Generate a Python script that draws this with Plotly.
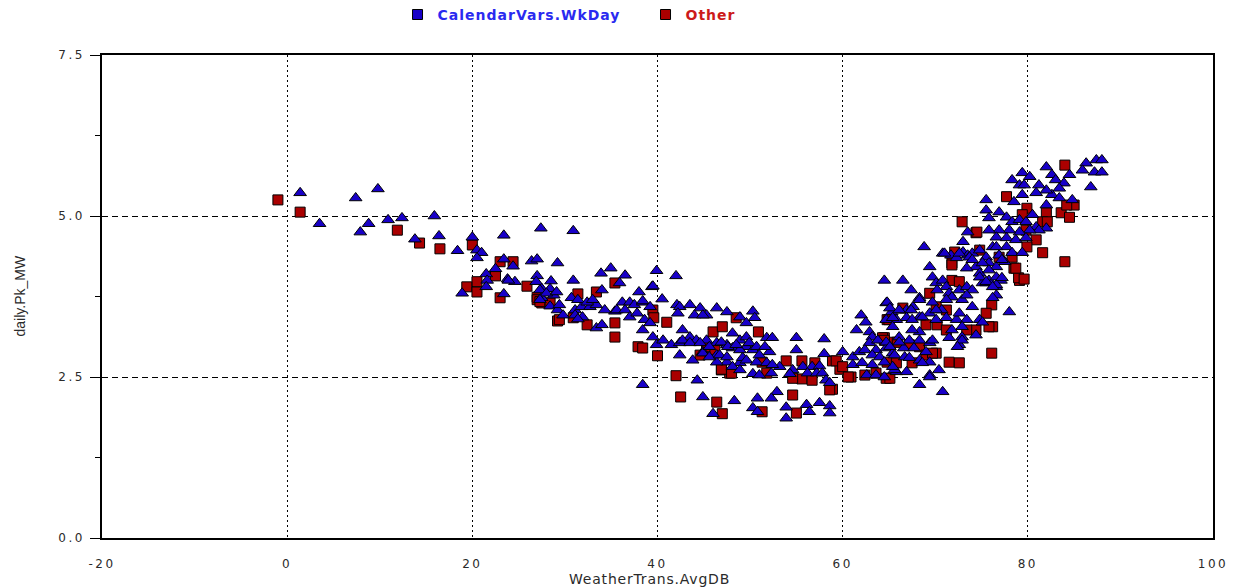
import plotly.graph_objects as go

# ---- data (WeatherTrans.AvgDB, daily.Pk_MW) ----
wkday_points = [
    (1.4,5.36),(3.5,4.88),(7.4,5.28),(9.8,5.42),(7.9,4.75),(8.8,4.88),(10.9,4.94),(12.4,4.97),
    (15.9,5.0),(13.8,4.64),(16.4,4.69),(18.4,4.46),(20.0,4.67),(20.5,4.47),(21.0,4.43),(20.5,4.35),
    (23.4,4.70),(27.4,4.81),(23.4,4.33),(24.4,4.22),(26.4,4.30),(27.0,4.33),(29.2,4.27),(21.5,4.10),
    (22.5,4.18),(21.6,4.0),(21.5,3.90),(18.9,3.80),(23.4,3.79),(23.8,4.02),(24.6,3.98),(27.0,4.07),
    (26.9,3.98),(28.5,3.99),(27.5,3.87),(28.4,3.87),(27.5,3.73),(28.4,3.60),(29.2,3.54),(28.8,3.77),
    (30.9,4.77),(34.95,4.19),(33.9,4.11),(36.5,4.08),(39.9,4.15),(42.0,4.07),(35.9,3.96),(38.0,3.82),
    (39.4,3.90),(34.0,3.85),(30.9,4.0),(23.9,4.0),(27.3,3.85),(28.0,3.80),(29.1,3.82),(27.3,3.70),
    (29.4,3.62),(31.1,3.54),(31.8,3.59),(32.7,3.59),(33.4,3.62),(34.3,3.54),(35.4,3.52),(36.2,3.66),
    (37.0,3.66),(37.5,3.62),(38.4,3.66),(39.2,3.59),(30.7,3.73),(31.4,3.70),(32.4,3.66),(33.0,3.70),
    (29.8,3.46),(31.1,3.46),(31.9,3.43),(31.4,3.40),(33.4,3.26),(34.0,3.31),(35.6,3.54),(36.5,3.54),
    (37.0,3.43),(37.8,3.49),(38.6,3.39),(39.2,3.34),(38.4,3.23),(39.5,3.12),(39.9,3.0),(40.6,3.07),
    (41.5,3.0),(42.4,3.03),(42.1,3.62),(42.4,3.59),(43.5,3.62),(44.6,3.57),(45.3,3.46),(46.4,3.57),
    (47.5,3.51),(48.9,3.43),(49.6,3.34),(42.7,3.23),(43.5,3.12),(44.2,3.07),(45.3,3.07),(46.4,3.03),
    (47.5,3.0),(48.1,2.95),(48.9,3.07),(49.6,2.97),(42.4,2.84),(43.8,2.76),(44.9,2.89),(46.4,2.84),
    (47.5,2.73),(48.9,2.72),(49.2,2.80),(44.3,2.45),(38.4,2.38),(44.9,2.19),(48.3,2.13),(46.0,1.93),
    (50.8,2.17),(50.3,2.02),(50.8,1.96),(52.9,2.27),(52.3,2.17),(53.9,2.03),(53.9,1.86),(56.1,2.07),
    (56.4,1.96),(57.5,2.10),(58.6,2.05),(58.6,1.94),(39.5,3.91),(38.4,3.68),(40.5,3.71),(42.2,3.49),
    (44.0,3.46),(44.9,3.46),(50.3,3.52),(50.5,3.42),(48.1,3.18),(49.6,3.12),(51.8,3.11),(52.4,3.11),
    (55.0,3.11),(58.0,3.09),(55.0,2.92),(58.0,2.86),(60.0,2.89),(61.1,2.81),(53.2,2.66),(54.6,2.61),
    (55.7,2.66),(56.7,2.66),(57.5,2.67),(56.2,2.56),(57.2,2.56),(57.8,2.56),(58.2,2.45),(58.6,2.41),
    (54.3,2.55),(49.6,2.76),(50.7,2.73),(51.8,2.72),(52.3,2.56),(52.4,2.69),(46.4,2.73),(48.1,2.66),
    (48.9,2.61),(50.3,2.55),(51.0,2.53),(44.9,2.87),(45.6,2.81),(46.7,2.84),(47.5,2.81),(48.9,2.92),
    (50.3,2.92),(51.0,2.84),(52.1,2.89),(42.7,3.07),(43.5,3.03),(44.6,3.03),(45.6,2.97),(46.9,3.04),
    (47.6,2.97),(48.5,3.0),(49.9,3.03),(50.7,2.97),(51.6,2.97),(62.0,3.46),(62.5,3.35),(61.5,3.23),
    (62.9,3.20),(63.2,3.12),(62.9,3.03),(63.6,2.92),(61.8,2.89),(62.4,2.92),(63.2,2.84),(64.0,2.81),
    (61.1,2.69),(62.1,2.72),(63.2,2.69),(62.6,2.53),(63.6,2.53),(64.7,3.65),(65.3,3.51),(65.6,3.39),
    (64.7,2.95),(65.4,2.87),(65.8,2.58),(64.5,2.50),
    (68.8,4.52),(70.8,4.42),(73.0,4.60),(71.7,4.39),(72.3,4.35),(73.0,4.44),(73.5,4.39),(74.0,4.42),
    (74.8,4.47),(75.5,4.36),(76.2,4.52),(76.9,4.39),(77.7,4.52),(77.5,4.29),(75.8,4.27),(76.6,4.21),
    (74.4,4.21),(73.4,4.19),(74.8,4.11),(69.4,4.21),(64.5,4.0),(66.5,4.0),(67.4,3.85),(68.3,3.73),
    (69.7,4.05),(70.1,3.96),(70.8,4.0),(71.2,3.90),(70.2,3.85),(71.5,3.80),(71.8,3.74),(72.6,3.85),
    (73.4,3.90),(72.9,3.70),(74.0,3.59),(75.1,3.96),(75.8,4.0),(76.6,3.90),(77.1,4.0),(76.6,3.77),
    (76.2,3.73),(78.0,3.51),(64.8,3.66),(65.1,3.57),(65.8,3.39),(64.7,3.39),(65.4,3.28),(66.9,3.54),
    (67.6,3.59),(68.3,3.43),(69.4,3.49),(70.1,3.39),(70.7,3.54),(71.2,3.42),(72.3,3.39),(73.4,3.39),
    (74.8,3.39),(71.8,3.23),(72.9,3.12),(72.6,3.0),(74.4,3.15),(63.8,3.07),(64.7,3.04),(65.1,2.97),
    (66.1,3.12),(67.2,3.07),(68.3,3.07),(69.4,3.03),(66.6,2.95),(67.7,2.95),(69.0,2.89),(65.6,2.84),
    (66.7,2.81),(68.3,2.76),(69.4,2.73),(70.4,2.61),(69.4,2.53),(68.3,2.38),(70.8,2.27),(66.9,2.58),
    (65.6,2.61),(73.5,4.75),(66.1,3.54),(67.4,3.54),(68.3,3.70),(69.7,3.66),(71.2,3.70),(65.4,3.42),
    (66.9,3.42),(67.5,3.39),(68.6,3.43),(70.1,3.54),(72.6,3.49),(76.6,3.93),(75.5,3.96),(72.9,3.28),
    (72.9,3.07),(71.5,3.11),(69.7,3.07),(72.4,2.97),(68.3,3.20),(67.5,3.23),(66.1,3.04),(67.2,2.80),
    (68.6,2.72),(69.4,2.50),(65.4,2.66),(64.5,2.73),
    (82.0,5.76),(86.3,5.82),(87.4,5.87),(88.0,5.87),(85.9,5.71),(87.2,5.68),(88.0,5.68),(86.8,5.45),
    (82.6,5.64),(83.0,5.56),(83.9,5.51),(84.5,5.64),(83.4,5.43),(82.6,5.33),(82.0,5.40),(81.2,5.48),
    (80.9,5.36),(78.3,5.56),(79.4,5.67),(80.2,5.61),(79.1,5.48),(79.6,5.48),(79.4,5.33),(78.5,5.22),
    (75.5,5.25),(83.4,5.28),(84.8,5.25),(82.0,5.17),(75.5,5.09),(75.8,4.97),(76.9,5.06),(77.7,4.98),
    (78.3,4.91),(79.1,4.94),(79.8,4.91),(80.5,5.02),(80.9,4.83),(82.0,4.81),(81.2,4.78),(80.2,4.78),
    (79.1,4.75),(78.0,4.78),(76.9,4.78),(75.8,4.78),(76.6,4.67),(77.7,4.66),(78.7,4.63),(79.8,4.66),
    (76.6,4.52),(78.3,4.43),(79.4,4.43),(77.2,4.32),(71.0,4.42),(72.6,4.42),(73.7,4.36),(74.0,4.32),
    (75.1,4.27),(75.8,4.16),(74.8,4.05),(76.6,4.05),(75.5,3.98),(76.2,3.90),(77.2,4.04),(74.0,3.85),
    (73.4,3.77),(75.1,3.35),
]

other_points = [
    (-1.0,5.25),(1.4,5.06),(11.9,4.78),(14.3,4.58),(16.5,4.49),(20.0,4.55),(23.0,4.29),(24.4,4.29),
    (22.5,4.07),(20.5,3.98),(19.4,3.90),(20.5,3.82),(23.0,3.73),(25.9,3.91),(27.0,3.74),(27.5,3.65),
    (29.2,3.37),(35.4,3.96),(33.4,3.82),(31.4,3.79),(27.0,3.70),(27.3,3.67),(28.4,3.65),(29.4,3.39),
    (30.9,3.42),(32.4,3.31),(35.4,3.12),(35.4,3.34),(39.5,3.54),(39.6,3.42),(41.0,3.35),(37.9,2.97),
    (38.4,2.95),(40.0,2.83),(48.5,3.42),(46.0,3.20),(47.0,3.28),(44.6,2.84),(46.9,2.61),(47.8,2.56),
    (42.0,2.52),(42.5,2.19),(46.4,2.11),(47.0,1.93),(51.3,1.96),(54.6,2.22),(55.0,1.94),(50.9,3.20),
    (53.9,2.75),(55.6,2.75),(57.0,2.72),(58.9,2.75),(59.7,2.62),(55.6,2.47),(56.7,2.45),(58.9,2.31),
    (58.6,2.30),(54.6,2.48),(51.3,2.73),(51.8,2.56),(46.9,2.62),(48.0,2.56),(45.3,2.97),(46.2,2.92),
    (60.9,2.50),(59.3,2.75),(60.0,2.66),(64.8,3.39),(64.5,3.11),(65.6,3.04),(64.8,2.73),(65.8,2.72),
    (64.7,2.48),(60.6,2.50),(62.4,2.53),
    (71.8,4.27),(74.4,4.74),(76.9,4.36),(78.5,4.19),(79.1,4.0),(71.8,4.0),(69.4,3.80),(70.1,3.59),
    (71.2,3.54),(76.1,3.62),(76.2,3.28),(75.5,3.49),(66.5,3.57),(65.0,3.39),(69.0,3.31),(70.2,3.31),
    (71.2,3.23),(70.1,2.87),(71.5,2.73),(72.6,2.72),(76.1,2.87),(74.4,3.23),(73.4,3.23),(64.3,3.11),
    (65.9,3.04),(67.2,3.0),(68.3,2.97),(69.0,2.84),(69.7,2.87),(67.5,2.72),(63.6,2.56),(75.8,3.28),
    (79.0,4.04),(65.1,2.48),(64.5,3.07),
    (84.0,5.79),(77.7,5.30),(79.9,5.12),(82.0,5.05),(83.6,5.05),(84.5,4.98),(85.0,5.17),(84.2,5.17),
    (81.6,4.91),(82.1,4.91),(80.9,4.63),(81.6,4.43),(79.8,4.78),(79.9,4.52),(79.4,5.02),(84.0,4.29),
    (72.9,4.91),(74.5,4.75),(74.8,4.47),(78.3,4.36),(78.7,4.19),(79.6,4.02),(72.1,4.44),(71.8,4.24),
    (72.6,3.98),
]

x_ticks = [-20, 0, 20, 40, 60, 80, 100]
y_ticks = [0.0, 2.5, 5.0, 7.5]

wk_x = [p[0] for p in wkday_points]
wk_y = [p[1] for p in wkday_points]
ot_x = [p[0] for p in other_points]
ot_y = [p[1] for p in other_points]

BLUE = "#1800c8"
RED = "#aa0000"
FONT = "DejaVu Sans"
TXT = "#2a2a2a"


def wide(s, sp):
    return f'<span style="letter-spacing:{sp}px">{s}</span>'


fig = go.Figure()

fig.add_trace(go.Scatter(
    x=ot_x, y=ot_y, mode="markers", showlegend=False,
    marker=dict(symbol="square", size=10, color=RED, line=dict(color="black", width=1)),
))
fig.add_trace(go.Scatter(
    x=wk_x, y=wk_y, mode="markers", showlegend=False,
    marker=dict(symbol="triangle-up", size=11, color=BLUE, line=dict(color="black", width=1)),
))

# legend entries (square swatches, coloured bold text)
fig.add_trace(go.Scatter(
    x=[None], y=[None], mode="markers",
    name='<b><span style="color:#2a2af0;letter-spacing:1px">CalendarVars.WkDay</span></b>',
    marker=dict(symbol="square", size=10, color=BLUE, line=dict(color="black", width=1)),
))
fig.add_trace(go.Scatter(
    x=[None], y=[None], mode="markers",
    name='<b><span style="color:#cc1a1a;letter-spacing:1px">Other</span></b>',
    marker=dict(symbol="square", size=10, color=RED, line=dict(color="black", width=1)),
))

fig.update_layout(
    width=1241, height=587,
    margin=dict(l=102, r=28, t=55, b=49, autoexpand=False),
    plot_bgcolor="white", paper_bgcolor="white",
    font=dict(family=FONT, size=12, color=TXT),
    legend=dict(orientation="h", x=0.266, xanchor="left", y=1.083, yanchor="middle",
                entrywidth=203, entrywidthmode="pixels",
                font=dict(family=FONT, size=14), itemclick=False, bgcolor="rgba(0,0,0,0)"),
    xaxis=dict(
        range=[-20, 100], tickmode="array", tickvals=x_ticks,
        ticktext=[wide(str(v), 2.5) for v in x_ticks],
        showgrid=True, gridcolor="black", gridwidth=1, griddash="2px,3px",
        zeroline=False, showline=True, linecolor="black", linewidth=1.5, mirror=True,
        ticks="outside", ticklen=14, tickcolor="rgba(0,0,0,0)",
        tickfont=dict(family=FONT, size=12, color=TXT),
    ),
    yaxis=dict(
        range=[0, 7.5], tickmode="array", tickvals=y_ticks,
        ticktext=[wide(f"{v:.1f}", 2.5) for v in y_ticks],
        showgrid=True, gridcolor="black", gridwidth=1, griddash="6px,4px",
        zeroline=False, showline=True, linecolor="black", linewidth=1.5, mirror=True,
        ticks="outside", ticklen=10, tickcolor="black", ticklabelstandoff=3,
        minor=dict(tickmode="array", tickvals=[1.25, 3.75, 6.25], ticks="outside", ticklen=5,
                   tickcolor="black", showgrid=False),
        tickfont=dict(family=FONT, size=12, color=TXT),
    ),
    annotations=[
        dict(text=wide("WeatherTrans.AvgDB", 0.8), xref="paper", yref="paper", x=0.493, y=0,
             xanchor="center", yanchor="top", yshift=-31, showarrow=False,
             font=dict(family=FONT, size=14, color=TXT)),
        dict(text="daily.Pk_MW", xref="paper", yref="paper", x=0, y=0.5,
             xanchor="center", yanchor="middle", xshift=-83, textangle=-90, showarrow=False,
             font=dict(family="Liberation Sans", size=14, color=TXT)),
    ],
)

fig.write_html("out.html")
